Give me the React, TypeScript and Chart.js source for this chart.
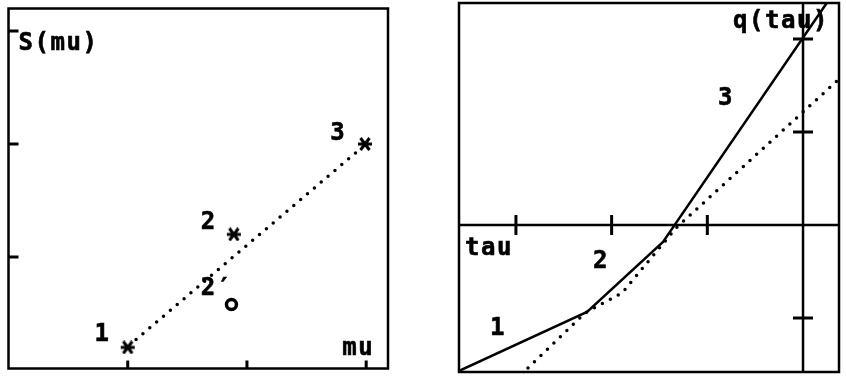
import React, { useEffect, useRef } from "react";
import { Chart, registerables } from "chart.js";

Chart.register(...registerables);

// ---------- Left panel: S(mu) ----------
const muPoints = [1, 1.89, 2.99];
const sPoints = [0.2, 1.2, 2.0];
const primeMu = [1.87];
const primeS = [0.58];
const fitMu = [1.07, 2.92];
const fitS = [0.27, 1.93];
const leftXTicks = [1, 2, 3];
const leftYTicks = [1, 2, 3];
const leftLabels = ["S(mu)", "mu", "1", "2", "2\u2032", "3"];
const leftLabelX = [0.084, 2.799, 0.722, 1.612, 1.612, 2.698];
const leftLabelY = [2.835, 0.134, 0.255, 1.251, 0.662, 2.039];

// ---------- Right panel: q(tau) ----------
const tauSolid = [-3.595, -2.257, -1.463, 0.25];
const qSolid = [-1.57, -0.935, -0.183, 2.39];
const tauDotted = [-2.874, -2.278, -1.891, -1.327, 0.366];
const qDotted = [-1.538, -0.946, -0.731, -0.032, 1.559];
const tauTicks = [-3, -2, -1];
const qTicks = [2, 1, -1];
const rightLabels = ["q(tau)", "tau", "1", "2", "3"];
const rightLabelX = [-0.731, -3.532, -3.27, -2.194, -0.888];
const rightLabelY = [2.118, -0.323, -1.183, -0.462, 1.29];

const PITCH = 16;
const FONT = "bold 24px 'DejaVu Sans Mono', monospace";

const pts = (xs: number[], ys: number[]) => xs.map((x, i) => ({ x, y: ys[i] }));

function makeAsterisk(): HTMLCanvasElement {
  const c = document.createElement("canvas");
  c.width = 16;
  c.height = 14;
  const g = c.getContext("2d")!;
  g.strokeStyle = "#000";
  g.lineWidth = 3;
  g.lineCap = "butt";
  g.beginPath();
  g.moveTo(1, 7);
  g.lineTo(15, 7);
  g.moveTo(3.5, 1);
  g.lineTo(12.5, 13);
  g.moveTo(12.5, 1);
  g.lineTo(3.5, 13);
  g.stroke();
  return c;
}

function drawText(ctx: CanvasRenderingContext2D, text: string, px: number, py: number) {
  ctx.font = FONT;
  ctx.fillStyle = "#000";
  ctx.strokeStyle = "#000";
  ctx.lineWidth = 0.6;
  ctx.textAlign = "left";
  ctx.textBaseline = "alphabetic";
  Array.from(text).forEach((ch, i) => {
    ctx.fillText(ch, px + i * PITCH, py);
    ctx.strokeText(ch, px + i * PITCH, py);
  });
}

function makePlugin(kind: "left" | "right") {
  return {
    id: "decor-" + kind,
    beforeDraw(chart: any) {
      const ctx = chart.ctx;
      ctx.save();
      ctx.fillStyle = "#fff";
      ctx.fillRect(0, 0, chart.width, chart.height);
      ctx.restore();
    },
    beforeDatasetsDraw(chart: any) {
      const { ctx, chartArea: a, scales } = chart;
      const xs = scales.x;
      const ys = scales.y;
      ctx.save();
      ctx.strokeStyle = "#000";
      ctx.lineWidth = 2.5;
      ctx.lineCap = "butt";
      ctx.strokeRect(a.left, a.top, a.right - a.left, a.bottom - a.top);
      ctx.beginPath();
      if (kind === "right") {
        const y0 = ys.getPixelForValue(0);
        const x0 = xs.getPixelForValue(0);
        ctx.moveTo(a.left, y0);
        ctx.lineTo(a.right, y0);
        ctx.moveTo(x0, a.top);
        ctx.lineTo(x0, a.bottom);
      }
      ctx.stroke();
      ctx.lineWidth = 3;
      ctx.beginPath();
      if (kind === "left") {
        leftXTicks.forEach((t) => {
          const px = xs.getPixelForValue(t);
          ctx.moveTo(px, a.bottom);
          ctx.lineTo(px, a.bottom - 8);
        });
        leftYTicks.forEach((t) => {
          const py = ys.getPixelForValue(t);
          ctx.moveTo(a.left, py);
          ctx.lineTo(a.left + 10, py);
        });
      } else {
        const y0 = ys.getPixelForValue(0);
        const x0 = xs.getPixelForValue(0);
        tauTicks.forEach((t) => {
          const px = xs.getPixelForValue(t);
          ctx.moveTo(px, y0 - 10);
          ctx.lineTo(px, y0 + 10);
        });
        qTicks.forEach((t) => {
          const py = ys.getPixelForValue(t);
          ctx.moveTo(x0 - 10, py);
          ctx.lineTo(x0 + 10, py);
        });
      }
      ctx.stroke();
      ctx.restore();
    },
    afterDatasetsDraw(chart: any) {
      const { ctx, scales } = chart;
      const labels = kind === "left" ? leftLabels : rightLabels;
      const lx = kind === "left" ? leftLabelX : rightLabelX;
      const ly = kind === "left" ? leftLabelY : rightLabelY;
      ctx.save();
      labels.forEach((t, i) => {
        drawText(ctx, t, scales.x.getPixelForValue(lx[i]), scales.y.getPixelForValue(ly[i]));
      });
      ctx.restore();
    },
  };
}

const dotted = {
  showLine: true,
  borderColor: "#000",
  borderWidth: 3.5,
  borderDash: [0, 9],
  borderCapStyle: "round" as const,
  pointRadius: 0,
  fill: false,
};

function linScale(min: number, max: number) {
  return { type: "linear" as const, display: false, min, max };
}

function Panel({ kind, left, width }: { kind: "left" | "right"; left: number; width: number }) {
  const ref = useRef<HTMLCanvasElement | null>(null);
  useEffect(() => {
    if (!ref.current) return;
    const datasets: any[] =
      kind === "left"
        ? [
            { ...dotted, data: pts(fitMu, fitS) },
            {
              data: pts(muPoints, sPoints),
              pointStyle: makeAsterisk(),
              pointRadius: 7,
              borderColor: "#000",
              backgroundColor: "#000",
            },
            {
              data: pts(primeMu, primeS),
              pointStyle: "circle",
              pointRadius: 5,
              borderColor: "#000",
              borderWidth: 3.5,
              backgroundColor: "#fff",
            },
          ]
        : [
            { ...dotted, data: pts(tauDotted, qDotted) },
            {
              showLine: true,
              data: pts(tauSolid, qSolid),
              borderColor: "#000",
              borderWidth: 2.5,
              pointRadius: 0,
              fill: false,
            },
          ];
    const chart = new Chart(ref.current, {
      type: "scatter",
      data: { datasets },
      options: {
        responsive: false,
        animation: false,
        devicePixelRatio: 1,
        events: [],
        layout: {
          padding:
            kind === "left"
              ? { left: 7, top: 5, right: 32, bottom: 4 }
              : { left: 29, top: 3, right: 7, bottom: 5 },
        },
        scales:
          kind === "left"
            ? { x: linScale(0, 3.183), y: linScale(0.013, 3.2) }
            : { x: linScale(-3.595, 0.376), y: linScale(-1.581, 2.387) },
        plugins: { legend: { display: false }, tooltip: { enabled: false } },
      },
      plugins: [makePlugin(kind)],
    });
    return () => chart.destroy();
  }, [kind]);
  return (
    <canvas
      ref={ref}
      width={width}
      height={377}
      style={{ position: "absolute", left, top: 0, width, height: 377, display: "block" }}
    />
  );
}

export default function App() {
  return (
    <div style={{ position: "absolute", left: 0, top: 0, width: 846, height: 377, background: "#fff" }}>
      <Panel kind="left" left={0} width={420} />
      <Panel kind="right" left={430} width={416} />
    </div>
  );
}
